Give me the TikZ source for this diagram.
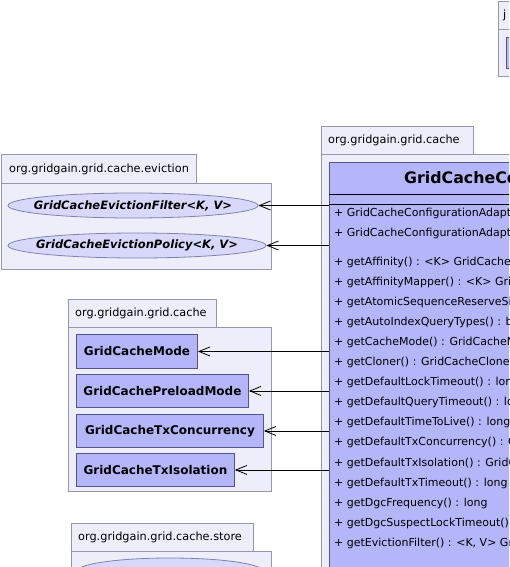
\documentclass[tikz,border=0pt]{standalone}
\usepackage{fontspec}
\setmainfont{DejaVu Sans}
\usetikzlibrary{arrows.meta,shapes.geometric}
\definecolor{pkgfill}{RGB}{238,238,250}
\definecolor{pkgline}{RGB}{150,150,175}
\definecolor{clsfill}{RGB}{181,181,250}
\definecolor{clsline}{RGB}{85,85,140}
\definecolor{ellfill}{RGB}{216,216,250}
\definecolor{ellline}{RGB}{130,130,175}
\tikzset{
  pkg/.style={draw=pkgline, fill=pkgfill, line width=0.9pt},
  pkglabel/.style={anchor=west, inner sep=0pt, font=\fontsize{11.3}{13}\selectfont},
  enumbox/.style={draw=clsline, fill=clsfill, line width=0.9pt, inner sep=0pt,
    font=\bfseries\fontsize{12}{14}\selectfont},
  ifcell/.style={ellipse, draw=ellline, fill=ellfill, line width=0.8pt, inner sep=0pt},
  iftext/.style={inner sep=0pt, font=\bfseries\itshape\fontsize{11.5}{14}\selectfont},
  clsbox/.style={draw=clsline, fill=clsfill, line width=0.9pt, inner sep=0pt},
  member/.style={anchor=west, inner sep=0pt, font=\fontsize{11}{13}\selectfont},
  dep/.style={draw=black, line width=0.8pt, -{Straight Barb[length=11pt,width=9pt,line width=0.8pt]}}
}
\begin{document}
\begin{tikzpicture}[x=1pt,y=-1pt]
\useasboundingbox (0,0) rectangle (509,567);
\clip (0,0) rectangle (509,567);
\fill[white] (0,0) rectangle (509,567);

% top-right package
\draw[pkg] (498,1) rectangle (530,29);
\draw[pkg] (498,29) rectangle (530,76);
\node[pkglabel] (jlab) at (503,15) {j};
\node[clsbox, anchor=north west, minimum width=30pt, minimum height=31pt] (jcls) at (506,37) {};

% eviction package
\draw[pkg] (1,154) rectangle (196,183);
\draw[pkg] (1,183) rectangle (271,269);
\node[pkglabel] (evlab) at (9,169) {org.gridgain.grid.cache.eviction};
\node[ifcell, minimum width=250pt, minimum height=25pt] (evf) at (133,205.5) {};
\node[iftext] (evft) at (evf) {GridCacheEvictionFilter<K, V>};
\node[ifcell, minimum width=258pt, minimum height=25pt] (evp) at (137,245.5) {};
\node[iftext] (evpt) at (evp) {GridCacheEvictionPolicy<K, V>};

% left cache package
\draw[pkg] (68,299) rectangle (216,327);
\draw[pkg] (68,327) rectangle (271,491);
\node[pkglabel] (cachelab) at (75,313) {org.gridgain.grid.cache};
\node[enumbox, anchor=north west, minimum width=121pt, minimum height=34pt] (mode) at (76,334) {GridCacheMode};
\node[enumbox, anchor=north west, minimum width=172pt, minimum height=33pt] (preload) at (76,374) {GridCachePreloadMode};
\node[enumbox, anchor=north west, minimum width=187pt, minimum height=33pt] (txconc) at (76,414) {GridCacheTxConcurrency};
\node[enumbox, anchor=north west, minimum width=158pt, minimum height=33pt] (txiso) at (76,453) {GridCacheTxIsolation};

% store package
\draw[pkg] (71,523) rectangle (253,551);
\draw[pkg] (71,551) rectangle (271,620);
\node[pkglabel] (storelab) at (78,537) {org.gridgain.grid.cache.store};
\node[ifcell, minimum width=185pt, minimum height=26pt] (store1) at (170,571) {};

% right cache package
\draw[pkg] (321,126) rectangle (473,154);
\draw[pkg] (321,154) rectangle (560,640);
\node[pkglabel] (cachelab2) at (328,140) {org.gridgain.grid.cache};
\node[clsbox, anchor=north west, minimum width=220pt, minimum height=470pt] (cls) at (329,162) {};
\node[anchor=west, inner sep=0pt, font=\bfseries\fontsize{15.8}{19}\selectfont] (title) at (404,179) {GridCacheConfigurationAdapter};
\draw[black, line width=0.9pt] (329,194) -- (549,194);
\draw[black, line width=0.9pt] (329,204) -- (549,204);
\node[member] (k1) at (334,213) {+ GridCacheConfigurationAdapter()};
\node[member] (k2) at (334,233) {+ GridCacheConfigurationAdapter(cfg : GridCacheConfiguration)};
\foreach \t [count=\i from 0] in {
  {+ getAffinity() : <K> GridCacheAffinity<K>},
  {+ getAffinityMapper() : <K> GridCacheAffinityMapper<K>},
  {+ getAtomicSequenceReserveSize() : int},
  {+ getAutoIndexQueryTypes() : boolean},
  {+ getCacheMode() : GridCacheMode},
  {+ getCloner() : GridCacheCloner},
  {+ getDefaultLockTimeout() : long},
  {+ getDefaultQueryTimeout() : long},
  {+ getDefaultTimeToLive() : long},
  {+ getDefaultTxConcurrency() : GridCacheTxConcurrency},
  {+ getDefaultTxIsolation() : GridCacheTxIsolation},
  {+ getDefaultTxTimeout() : long},
  {+ getDgcFrequency() : long},
  {+ getDgcSuspectLockTimeout() : long},
  {+ getEvictionFilter() : <K, V> GridCacheEvictionFilter<K, V>}} {
  \node[member] (m\i) at (334,{262+20.1*\i}) {\t};
}

% dependencies
\draw[dep] (cls.west |- evf) -- (evf);
\draw[dep] (cls.west |- evp) -- (evp);
\draw[dep] (cls.west |- mode) -- (mode);
\draw[dep] (cls.west |- preload) -- (preload);
\draw[dep] (cls.west |- txconc) -- (txconc);
\draw[dep] (cls.west |- txiso) -- (txiso);
\end{tikzpicture}
\end{document}
